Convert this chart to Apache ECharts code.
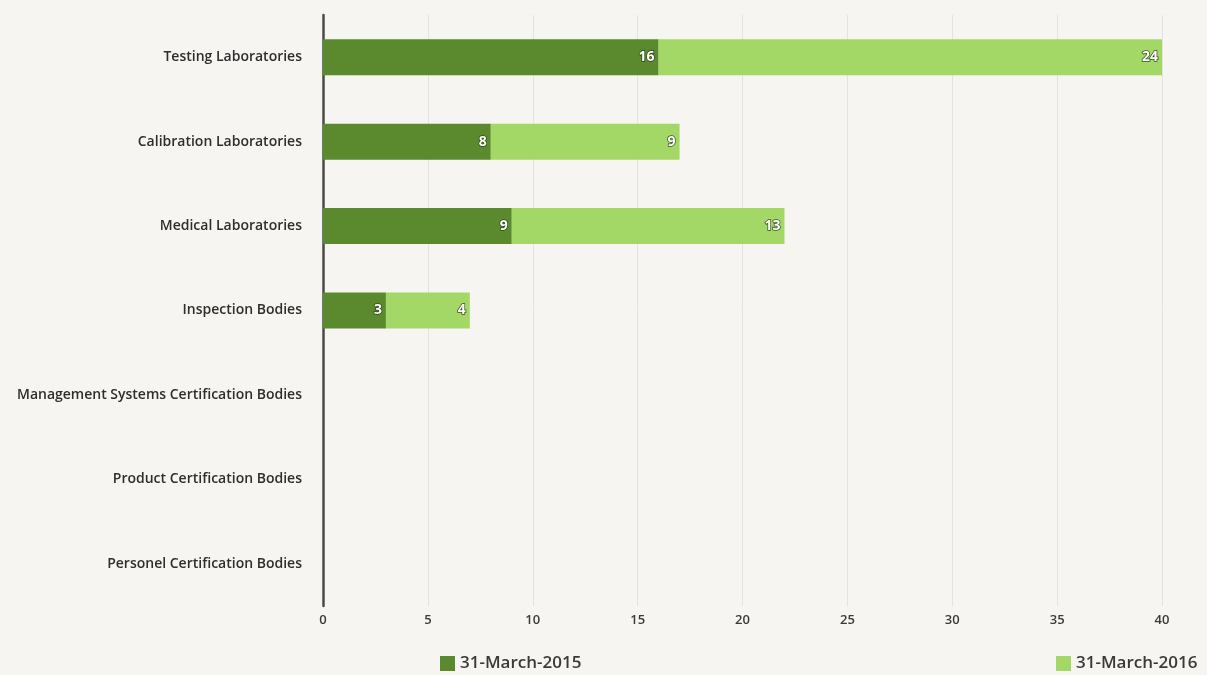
<!DOCTYPE html>
<html>
<head>
<meta charset="utf-8">
<script src="https://cdn.jsdelivr.net/npm/echarts@6/dist/echarts.min.js"></script>
<style>
  html, body { margin: 0; padding: 0; background: #f6f5f1; }
  #chart { width: 1207px; height: 675px; }
</style>
</head>
<body>
<div id="chart"></div>
<script>
const categories = [
  'Testing Laboratories',
  'Calibration Laboratories',
  'Medical Laboratories',
  'Inspection Bodies',
  'Management Systems Certification Bodies',
  'Product Certification Bodies',
  'Personel Certification Bodies'
];
const values2015 = [16, 8, 9, 3, null, null, null];
const values2016 = [24, 9, 13, 4, null, null, null];
const seriesNames = ['31-March-2015', '31-March-2016'];

const darkGreen = '#5a8a2d';
const lightGreen = '#a4d866';

const chart = echarts.init(document.getElementById('chart'));

const labelStyle = {
  show: true,
  position: 'insideRight',
  distance: 4,
  color: '#ffffff',
  fontFamily: 'Open Sans',
  fontSize: 14,
  fontWeight: 'bold',
  textBorderColor: 'rgba(40,60,20,0.85)',
  textBorderWidth: 1.5,
  formatter: p => (p.value == null ? '' : p.value)
};

const legendText = { fontFamily: 'Open Sans', fontSize: 17, fontWeight: 600, color: '#3a3a3a' };

chart.setOption({
  backgroundColor: '#f6f5f1',
  animation: false,
  grid: { left: 323, right: 45, top: 15, bottom: 69, containLabel: false },
  legend: [
    {
      data: [seriesNames[0]],
      icon: 'rect',
      left: 435, top: 650,
      itemWidth: 15, itemHeight: 15, itemGap: 10,
      textStyle: legendText
    },
    {
      data: [seriesNames[1]],
      icon: 'rect',
      left: 1051, top: 650,
      itemWidth: 15, itemHeight: 15,
      textStyle: legendText
    }
  ],
  xAxis: {
    type: 'value',
    min: 0, max: 40, interval: 5,
    axisLine: { show: false },
    axisTick: { show: false },
    axisLabel: { color: '#3a3a3a', fontFamily: 'Open Sans', fontSize: 13, fontWeight: 600, margin: 8 },
    splitLine: { show: true, lineStyle: { color: '#e4e3df', width: 1 } }
  },
  yAxis: {
    type: 'category',
    inverse: true,
    data: categories,
    axisLine: { show: true, lineStyle: { color: '#4a4a4a', width: 2.5 } },
    axisTick: { show: false },
    axisLabel: {
      color: '#2e2e2e', fontFamily: 'Open Sans', fontSize: 14, fontWeight: 600, margin: 21
    }
  },
  series: [
    {
      name: seriesNames[0],
      type: 'bar', stack: 'total',
      data: values2015,
      barWidth: 36,
      itemStyle: { color: darkGreen },
      label: labelStyle
    },
    {
      name: seriesNames[1],
      type: 'bar', stack: 'total',
      data: values2016,
      barWidth: 36,
      itemStyle: { color: lightGreen },
      label: labelStyle
    }
  ]
});
</script>
</body>
</html>
